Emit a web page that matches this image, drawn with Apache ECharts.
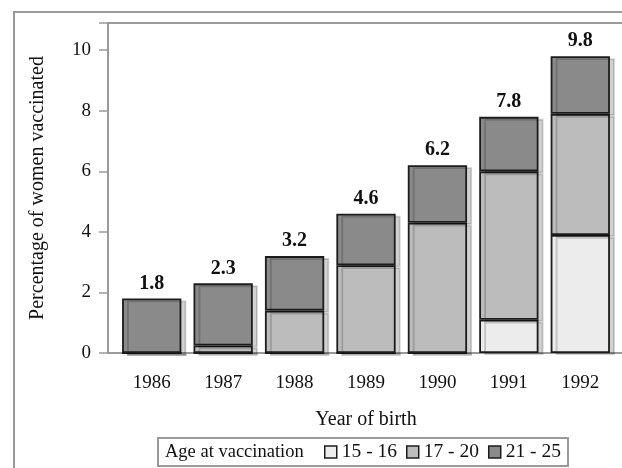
<!DOCTYPE html>
<html>
<head>
<meta charset="utf-8">
<script src="https://cdn.jsdelivr.net/npm/echarts@6/dist/echarts.min.js"></script>
<style>
  html, body { margin: 0; padding: 0; background: #fff; }
  #chart { width: 622px; height: 468px; }
</style>
</head>
<body>
<div id="chart"></div>
<script>
var years = ['1986', '1987', '1988', '1989', '1990', '1991', '1992']
var age1516 = [0, 0, 0, 0, 0, 1.1, 3.9]
var age1720 = [0, 0.25, 1.4, 2.9, 4.3, 4.9, 4.0]
var age2125 = [1.8, 2.05, 1.8, 1.7, 1.9, 1.8, 1.9]
var totals = ['1.8', '2.3', '3.2', '4.6', '6.2', '7.8', '9.8']
var yTicks = [0, 2, 4, 6, 8, 10]

var font = "'Liberation Serif', 'DejaVu Serif', serif"
var textColor = '#111'

function barSeries (name, data, color, withLabel) {
  var s = {
    name: name,
    type: 'bar',
    stack: 'total',
    data: data,
    barCategoryGap: '17%',
    itemStyle: {
      color: color,
      borderColor: '#1c1c1c',
      borderWidth: 1.8,
      shadowColor: 'rgba(0,0,0,0.18)',
      shadowOffsetX: 5,
      shadowOffsetY: 2,
      shadowBlur: 0
    },
    emphasis: { disabled: true }
  }
  if (withLabel) {
    s.label = {
      show: true,
      position: 'top',
      distance: 5,
      fontFamily: font,
      fontSize: 20,
      fontWeight: 'bold',
      color: textColor,
      formatter: function (p) { return totals[p.dataIndex] }
    }
  }
  return s
}

var chart = echarts.init(document.getElementById('chart'))
chart.setOption({
  backgroundColor: '#fff',
  animation: false,
  textStyle: { fontFamily: font },
  grid: {
    left: 116,
    right: 6,
    top: 23,
    bottom: 115
  },
  graphic: [
    {
      type: 'rect',
      z: -10,
      shape: { x: 14, y: 12, width: 700, height: 520 },
      style: { fill: 'none', stroke: '#9a9a9a', lineWidth: 2 }
    },
    {
      type: 'rect',
      z: -5,
      shape: { x: 108, y: 23, width: 600, height: 330 },
      style: { fill: 'none', stroke: '#9a9a9a', lineWidth: 2 }
    },
    {
      type: 'text',
      left: 165,
      top: 443,
      style: {
        text: 'Age at vaccination',
        font: '18.5px ' + font,
        fill: textColor
      }
    }
  ],
  legend: {
    data: ['15 - 16', '17 - 20', '21 - 25'],
    icon: 'rect',
    left: 158,
    top: 438,
    orient: 'horizontal',
    padding: [4, 7, 4, 166],
    itemGap: 9,
    itemWidth: 12,
    itemHeight: 12,
    borderColor: '#9a9a9a',
    borderWidth: 2,
    selectedMode: false,
    itemStyle: {
      borderColor: '#1c1c1c',
      borderWidth: 1.5,
      shadowColor: 'transparent',
      shadowOffsetX: 0,
      shadowOffsetY: 0
    },
    textStyle: {
      fontFamily: font,
      fontSize: 19.5,
      color: textColor
    }
  },
  xAxis: {
    type: 'category',
    data: years,
    name: 'Year of birth',
    nameLocation: 'middle',
    nameGap: 57,
    nameTextStyle: { fontFamily: font, fontSize: 20, color: textColor },
    axisLine: { show: false },
    axisTick: {
      alignWithLabel: true,
      length: 10,
      lineStyle: { color: '#9a9a9a', width: 1.5 }
    },
    axisLabel: {
      margin: 21,
      fontFamily: font,
      fontSize: 19,
      color: textColor
    }
  },
  yAxis: {
    type: 'value',
    min: 0,
    max: 10.9,
    interval: 2,
    offset: 8,
    name: 'Percentage of women vaccinated',
    nameLocation: 'middle',
    nameGap: 60,
    nameTextStyle: { fontFamily: font, fontSize: 20, color: textColor },
    axisLine: { show: false },
    axisTick: {
      show: true,
      length: 9,
      lineStyle: { color: '#9a9a9a', width: 1.5 }
    },
    splitLine: { show: false },
    axisLabel: {
      margin: 17,
      fontFamily: font,
      fontSize: 19,
      color: textColor,
      formatter: function (v) {
        return yTicks.indexOf(v) >= 0 ? String(v) : ''
      }
    }
  },
  series: [
    barSeries('15 - 16', age1516, '#ececec', false),
    barSeries('17 - 20', age1720, '#bcbcbc', false),
    barSeries('21 - 25', age2125, '#8a8a8a', true)
  ]
})
</script>
</body>
</html>
